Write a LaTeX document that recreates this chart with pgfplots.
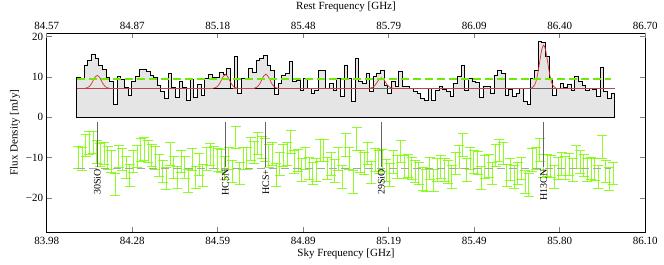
\documentclass[border=0pt]{standalone}
\usepackage{fontspec}
\setmainfont{Liberation Serif}
\usepackage{pgfplots}
\usepackage{pgfplotstable}
\pgfplotsset{compat=1.18}
\definecolor{lgreen}{RGB}{124,252,0}
\definecolor{rmsgreen}{RGB}{110,235,0}
\definecolor{fitred}{RGB}{225,45,45}
\definecolor{baser}{RGB}{190,70,70}
\definecolor{resgray}{RGB}{165,165,165}

\pgfplotstableread[row sep=\\]{
f\\ 10.0\\ 9.6\\ 13.0\\ 14.0\\ 15.6\\ 14.5\\ 13.0\\ 11.8\\ 10.0\\ 9.0\\
3.3\\ 10.2\\ 9.5\\ 7.5\\ 5.5\\ 9.0\\ 10.2\\ 11.8\\ 12.0\\ 11.5\\
10.5\\ 9.8\\ 8.0\\ 6.5\\ 4.8\\ 10.8\\ 7.5\\ 5.0\\ 9.0\\ 7.5\\
4.2\\ 9.5\\ 5.0\\ 8.2\\ 5.5\\ 9.6\\ 10.7\\ 10.0\\ 9.8\\ 11.1\\
10.7\\ 12.1\\ 7.2\\ 15.0\\ 6.0\\ 9.7\\ 9.7\\ 12.1\\ 11.2\\ 14.0\\
14.5\\ 15.3\\ 12.8\\ 11.7\\ 5.7\\ 8.4\\ 10.5\\ 10.9\\ 13.8\\ 8.8\\
9.2\\ 6.8\\ 9.7\\ 7.2\\ 6.0\\ 6.8\\ 11.7\\ 11.7\\ 7.2\\ 8.4\\
6.6\\ 9.6\\ 5.1\\ 13.0\\ 9.7\\ 3.9\\ 14.5\\ 9.0\\ 8.5\\ 11.0\\
6.4\\ 10.1\\ 10.9\\ 11.7\\ 8.0\\ 6.0\\ 8.8\\ 7.6\\ 11.5\\ 7.6\\
7.8\\ 7.2\\ 6.5\\ 6.0\\ 4.7\\ 4.3\\ 7.2\\ 4.3\\ 6.8\\ 7.6\\
6.9\\ 6.4\\ 5.1\\ 8.5\\ 10.1\\ 13.0\\ 6.8\\ 9.7\\ 8.8\\ 8.6\\
4.9\\ 7.6\\ 7.8\\ 6.0\\ 10.5\\ 11.7\\ 11.0\\ 5.5\\ 7.0\\ 5.1\\
6.0\\ 7.2\\ 3.9\\ 3.2\\ 9.7\\ 11.7\\ 18.9\\ 18.6\\ 15.0\\ 9.7\\
5.5\\ 7.2\\ 8.4\\ 7.4\\ 8.2\\ 6.8\\ 10.1\\ 8.8\\ 8.0\\ 6.8\\
7.2\\ 7.0\\ 5.1\\ 12.5\\ 6.5\\ 4.7\\ 6.0\\ 6.0\\
}\fluxtab

\pgfplotstableread[row sep=\\]{
r\\ -9.9\\ -10.3\\ -7.0\\ -6.4\\ -6.2\\ -8.6\\ -9.3\\ -8.9\\ -10.0\\ -10.9\\
-16.6\\ -9.7\\ -10.4\\ -12.4\\ -14.4\\ -10.9\\ -9.7\\ -8.1\\ -7.9\\ -8.4\\
-9.4\\ -10.1\\ -11.9\\ -13.4\\ -15.1\\ -9.1\\ -12.4\\ -14.9\\ -10.9\\ -12.4\\
-15.7\\ -10.4\\ -14.9\\ -11.7\\ -14.4\\ -10.3\\ -9.2\\ -9.9\\ -10.6\\ -10.8\\
-12.6\\ -10.2\\ -13.4\\ -5.0\\ -13.9\\ -10.2\\ -10.2\\ -7.8\\ -8.7\\ -6.5\\
-7.5\\ -8.1\\ -9.6\\ -9.0\\ -14.3\\ -11.5\\ -9.4\\ -9.0\\ -6.1\\ -11.1\\
-10.7\\ -13.1\\ -10.2\\ -12.7\\ -13.9\\ -13.1\\ -8.2\\ -8.2\\ -12.7\\ -11.5\\
-13.3\\ -10.3\\ -14.8\\ -6.9\\ -10.2\\ -16.0\\ -5.4\\ -10.9\\ -11.4\\ -8.9\\
-13.6\\ -10.6\\ -11.1\\ -10.7\\ -13.2\\ -14.2\\ -11.1\\ -12.3\\ -8.4\\ -12.3\\
-12.1\\ -12.7\\ -13.4\\ -13.9\\ -15.2\\ -15.6\\ -12.7\\ -15.6\\ -13.1\\ -12.3\\
-13.0\\ -13.5\\ -14.8\\ -11.4\\ -9.8\\ -6.9\\ -13.1\\ -10.2\\ -11.1\\ -11.3\\
-15.0\\ -12.3\\ -12.1\\ -13.9\\ -9.4\\ -8.2\\ -8.9\\ -14.4\\ -12.9\\ -14.8\\
-13.9\\ -12.7\\ -16.0\\ -16.7\\ -10.5\\ -10.2\\ -8.0\\ -12.0\\ -11.9\\ -12.2\\
-14.7\\ -12.7\\ -11.5\\ -12.5\\ -11.7\\ -13.1\\ -9.8\\ -11.1\\ -11.9\\ -13.1\\
-12.7\\ -12.9\\ -14.8\\ -7.4\\ -13.4\\ -15.2\\ -13.9\\
}\restab

\begin{document}
\begin{tikzpicture}[font=\fontsize{11bp}{13bp}\selectfont]
\useasboundingbox (-46.7bp,-33bp) rectangle (617.3bp,232bp);
\begin{axis}[
  at={(0,0)}, anchor=south west, scale only axis,
  width=598.6bp, height=199bp,
  xmin=83.98, xmax=86.10, ymin=-28.4, ymax=20.9,
  xtick={83.98,84.283,84.586,84.889,85.191,85.494,85.797,86.10},
  xticklabels={83.98,84.28,84.59,84.89,85.19,85.49,85.80,86.10},
  ytick={-20,-10,0,10,20},
  yticklabels={−20,−10,0,10,20},
  xtick pos=bottom,
  tick align=inside, major tick length=5bp,
  tick style={gray, line width=0.8bp},
  axis line style={line width=0.8bp},
  xticklabel style={yshift=-2bp},
  xlabel={Sky Frequency [GHz]}, ylabel={Flux Density [mJy]},
  xlabel style={at={(axis description cs:0.5,-0.109)}, anchor=center},
  ylabel style={at={(axis description cs:-0.053,0.5)}, anchor=center},
  clip=false,
]
% spectrum
\addplot[fill=black!10, draw=black, line width=0.7bp, const plot mark left]
  table[x expr=84.086+0.012966*\coordindex, y=f] {\fluxtab} \closedcycle;
% baseline
\addplot[draw=baser, line width=0.8bp] coordinates {(84.086,7.2) (85.992,7.2)};
% line windows
\addplot[draw=black, line width=0.9bp] coordinates {(84.569,7.2) (84.640,7.2)};
\addplot[draw=black, line width=0.9bp] coordinates {(84.718,7.2) (84.796,7.2)};
\addplot[draw=black!60, line width=0.9bp] coordinates {(85.138,7.2) (85.203,7.2)};
\addplot[draw=black!60, line width=0.9bp] coordinates {(85.689,7.2) (85.778,7.2)};
% gaussian fits
\addplot[draw=fitred, line width=0.7bp, smooth] coordinates {
(84.1165,7.235) (84.1236,7.34) (84.1307,7.63) (84.1378,8.24) (84.1448,9.14) (84.1519,10.02) (84.159,10.4)
(84.1661,10.02) (84.1732,9.14) (84.1802,8.24) (84.1873,7.63) (84.1944,7.34) (84.2015,7.235)};
\addplot[draw=fitred, line width=0.7bp, smooth] coordinates {
(84.5705,7.24) (84.5776,7.35) (84.5847,7.66) (84.5918,8.31) (84.5988,9.26) (84.6059,10.2) (84.613,10.6)
(84.6201,10.2) (84.6272,9.26) (84.6342,8.31) (84.6413,7.66) (84.6484,7.35) (84.6555,7.24)};
\addplot[draw=fitred, line width=0.7bp, smooth] coordinates {
(84.7135,7.24) (84.7206,7.35) (84.7277,7.67) (84.7348,8.34) (84.7418,9.32) (84.7489,10.29) (84.756,10.7)
(84.7631,10.29) (84.7702,9.32) (84.7772,8.34) (84.7843,7.67) (84.7914,7.35) (84.7985,7.24)};
\addplot[draw=fitred, line width=0.7bp, smooth] coordinates {
(85.1225,7.23) (85.1296,7.31) (85.1367,7.55) (85.1438,8.05) (85.1508,8.78) (85.1579,9.49) (85.165,9.8)
(85.1721,9.49) (85.1792,8.78) (85.1862,8.05) (85.1933,7.55) (85.2004,7.31) (85.2075,7.23)};
\addplot[draw=fitred, line width=0.7bp, smooth] coordinates {
(85.6975,7.32) (85.7046,7.67) (85.7117,8.64) (85.7188,10.68) (85.7258,13.69) (85.7329,16.64) (85.740,17.9)
(85.7471,16.64) (85.7542,13.69) (85.7612,10.68) (85.7683,8.64) (85.7754,7.67) (85.7825,7.32)};
% rms level
\addplot[draw=rmsgreen, line width=2bp, solid, dash pattern=on 8bp off 4bp] coordinates {(84.086,9.4) (85.979,9.4)};
% residuals
\addplot[draw=none, mark=none,
  error bars/.cd, y dir=both, y fixed=2.8,
  error mark=-,
  error bar style={draw=lgreen, line width=0.9bp, draw opacity=0.85, solid},
  error mark options={draw=lgreen, line width=0.9bp, draw opacity=0.85, mark size=5bp, rotate=90, solid}]
  table[x expr=84.086+0.012966*(\coordindex+0.5), y=r] {\restab};
\addplot[draw=resgray, line width=1.3bp, dash pattern=on 8bp off 4bp] coordinates {(84.086,-12.7) (85.979,-12.7)};
% line identifications
\addplot[draw=gray!80!black, line width=0.7bp] coordinates {(84.159,-1.2) (84.159,-12.4)};
\addplot[draw=gray!80!black, line width=0.7bp] coordinates {(84.613,-1.2) (84.613,-12.4)};
\addplot[draw=gray!80!black, line width=0.7bp] coordinates {(84.756,-1.2) (84.756,-12.4)};
\addplot[draw=gray!80!black, line width=0.7bp] coordinates {(85.165,-1.2) (85.165,-12.4)};
\addplot[draw=gray!80!black, line width=0.7bp] coordinates {(85.740,-1.2) (85.740,-12.4)};
\begin{scope}[every node/.style={rotate=90, anchor=east, inner sep=1bp, font=\fontsize{10bp}{12bp}\selectfont}]
\node at (axis cs:84.159,-12.6) {30SiO};
\node at (axis cs:84.613,-12.6) {HC5N};
\node at (axis cs:84.756,-12.6) {HCS+};
\node at (axis cs:85.165,-12.6) {29SiO};
\node at (axis cs:85.740,-12.6) {H13CN};
\end{scope}
\end{axis}
\begin{axis}[
  at={(0,0)}, anchor=south west, scale only axis,
  width=598.6bp, height=199bp,
  xmin=84.57, xmax=86.70, ymin=-28.4, ymax=20.9,
  axis x line*=top, axis y line=none,
  xtick={84.57,84.874,85.179,85.483,85.787,86.091,86.396,86.70},
  xticklabels={84.57,84.87,85.18,85.48,85.79,86.09,86.40,86.70},
  tick align=inside, major tick length=5bp,
  tick style={gray, line width=0.8bp},
  axis line style={line width=0.8bp},
  xlabel={Rest Frequency [GHz]},
  xlabel style={at={(axis description cs:0.5,1.133)}, anchor=center},
]
\end{axis}
\end{tikzpicture}
\end{document}
